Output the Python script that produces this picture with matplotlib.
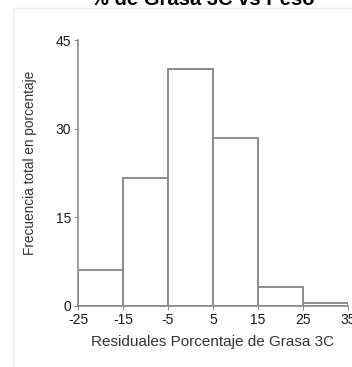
import matplotlib.pyplot as plt
from matplotlib.patches import Rectangle

# residual classes (bin edges) and total frequency in percent
bin_edges = [-25, -15, -5, 5, 15, 25, 35]
freq_pct = [6.0, 21.6, 40.1, 28.4, 3.2, 0.5]
y_ticks = [0, 15, 30, 45]

plt.rcParams['font.family'] = ['Liberation Sans', 'DejaVu Sans']
plt.rcParams['axes.unicode_minus'] = False

fig = plt.figure(figsize=(3.52, 3.67), dpi=100)
ax = fig.add_axes([0.2216, 0.167, 0.767, 0.724])

# faint panel frame behind the chart
fig.patches.append(Rectangle((13 / 352, -0.05), 1.2, 1 - 8 / 367 + 0.05,
                             transform=fig.transFigure, fill=False,
                             edgecolor='#ececec', linewidth=1.0, zorder=0))

widths = [bin_edges[i + 1] - bin_edges[i] for i in range(len(freq_pct))]
ax.bar(bin_edges[:-1], freq_pct, width=widths, align='edge',
       facecolor='white', edgecolor='#8c8c8c', linewidth=1.4)

ax.set_xlim(-25, 35)
ax.set_ylim(0, 45)
ax.set_xticks(bin_edges)
ax.set_yticks(y_ticks)

for s in ['top', 'right']:
    ax.spines[s].set_visible(False)
for s in ['left', 'bottom']:
    ax.spines[s].set_color('#8c8c8c')
    ax.spines[s].set_linewidth(1.2)

ax.tick_params(axis='both', length=3, width=0.8, color='#8c8c8c',
               labelsize=10, labelcolor='#1a1a1a', pad=2)

ax.set_xlabel('Residuales Porcentaje de Grasa 3C', fontsize=11,
              color='#333333', labelpad=6)
ax.set_ylabel('Frecuencia total en porcentaje', fontsize=9.8,
              color='#333333')
ax.yaxis.set_label_coords(-0.152, 0.536)

fig.text(0.577, 1 - 5 / 367, '% de Grasa 3C vs Peso', ha='center',
         va='baseline', fontsize=14.5, fontweight='bold', color='black')

fig.savefig('out.png', dpi=100)
